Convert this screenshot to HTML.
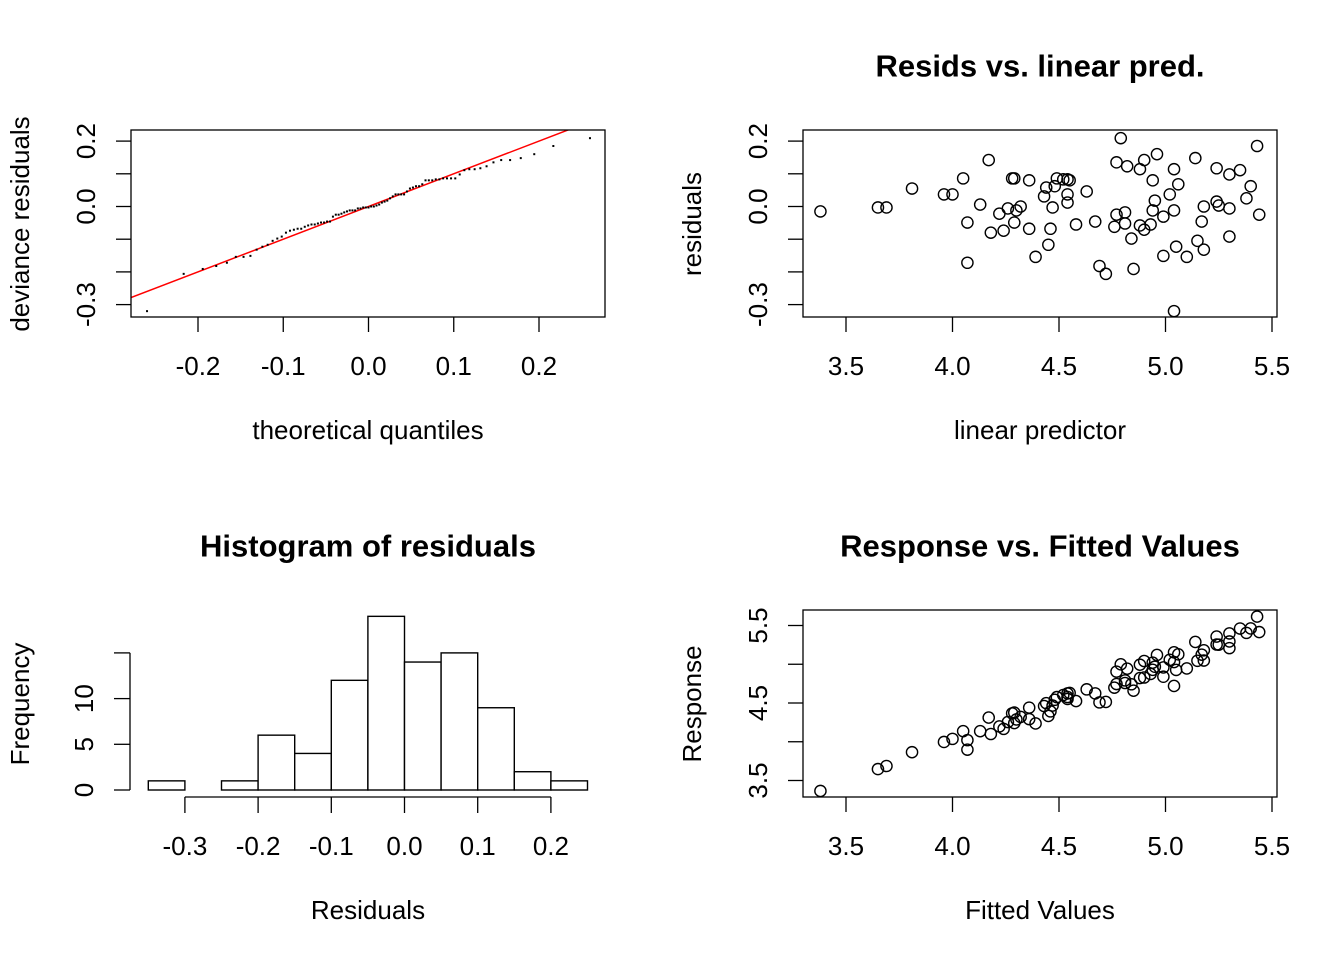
<!DOCTYPE html>
<html><head><meta charset="utf-8"><style>
html,body{margin:0;padding:0;background:#fff}
svg{display:block;font-family:"Liberation Sans",Arial,sans-serif}
</style></head><body>
<svg id="s" width="1344" height="960" viewBox="0 0 1344 960" xmlns="http://www.w3.org/2000/svg"></svg>
<script>
const linPred=[3.38,3.65,3.69,3.81,3.96,4.00,4.05,4.17,4.13,4.07,4.07,4.22,4.26,4.30,4.32,4.29,4.18,4.24,4.28,4.29,4.36,4.36,4.39,4.43,4.44,4.47,4.46,4.45,4.49,4.52,4.54,4.55,4.48,4.54,4.54,4.58,4.63,4.67,4.69,4.72,4.79,4.77,4.82,4.88,4.90,4.96,4.94,5.04,5.06,5.02,4.95,4.94,5.04,4.99,4.77,4.81,4.76,4.81,4.88,4.90,4.93,4.84,4.85,4.99,5.05,5.10,5.15,5.18,5.04,5.14,5.17,5.18,5.24,5.30,5.35,5.24,5.25,5.30,5.30,5.40,5.38,5.43,5.44];
const resid=[-0.015,-0.003,-0.003,0.055,0.037,0.037,0.086,0.142,0.006,-0.049,-0.172,-0.022,-0.006,-0.012,0.0,-0.049,-0.080,-0.074,0.086,0.086,0.080,-0.068,-0.154,0.031,0.058,-0.003,-0.068,-0.117,0.086,0.083,0.083,0.080,0.062,0.037,0.012,-0.055,0.046,-0.046,-0.182,-0.206,0.209,0.135,0.123,0.114,0.142,0.160,0.080,0.114,0.068,0.037,0.018,-0.012,-0.012,-0.031,-0.025,-0.018,-0.062,-0.052,-0.058,-0.071,-0.055,-0.098,-0.191,-0.151,-0.123,-0.154,-0.105,-0.132,-0.320,0.148,-0.046,0.0,0.117,0.098,0.111,0.015,0.003,-0.006,-0.092,0.062,0.025,0.185,-0.025];
const histBreaks=[-0.35,-0.3,-0.25,-0.2,-0.15,-0.1,-0.05,0,0.05,0.1,0.15,0.2,0.25];
const histCounts=[1,0,1,6,4,12,19,14,15,9,2,1];
const qqXTicks=[-0.2,-0.1,0.0,0.1,0.2];
const residTicks=[0.2,0.1,0.0,-0.1,-0.2,-0.3];
const residTickLabels=["0.2","","0.0","","","-0.3"];
const predTicks=[3.5,4.0,4.5,5.0,5.5];
const respTicks=[5.5,5.0,4.5,4.0,3.5];
const respTickLabels=["5.5","","4.5","","3.5"];
const histXTicks=[-0.3,-0.2,-0.1,0.0,0.1,0.2];
const histYTicks=[0,5,10,15];
const histYTickLabels=["0","5","10",""];

const S=document.getElementById('s');const NS='http://www.w3.org/2000/svg';
function mk(tag,at,parent){const e=document.createElementNS(NS,tag);for(const k in at)e.setAttribute(k,at[k]);(parent||S).appendChild(e);return e;}
function txt(x,y,s,size,opts){opts=opts||{};const t=mk('text',{x:x,y:y,'font-size':size,'text-anchor':'middle','dominant-baseline':'central','fill':'#000'});if(opts.bold)t.setAttribute('font-weight','bold');if(opts.rot)t.setAttribute('transform','rotate(-90 '+x+' '+y+')');t.textContent=s;return t;}
function lin(d0,d1,p0,p1){return v=>p0+(v-d0)*(p1-p0)/(d1-d0);}
function line(x1,y1,x2,y2,c,w){return mk('line',{x1:x1,y1:y1,x2:x2,y2:y2,stroke:c||'#000','stroke-width':w||1.3});}
function qnorm(p){const a=[-39.69683028665376,220.9460984245205,-275.9285104469687,138.357751867269,-30.66479806614716,2.506628277459239],b=[-54.47609879822406,161.5858368580409,-155.6989798598866,66.80131188771972,-13.28068155288572],c=[-0.007784894002430293,-0.3223964580411365,-2.400758277161838,-2.549732539343734,4.374664141464968,2.938163982698783],d=[0.007784695709041462,0.3224671290700398,2.445134137142996,3.754408661907416];const pl=0.02425;let q,r;if(p<pl){q=Math.sqrt(-2*Math.log(p));return(((((c[0]*q+c[1])*q+c[2])*q+c[3])*q+c[4])*q+c[5])/((((d[0]*q+d[1])*q+d[2])*q+d[3])*q+1);}if(p>1-pl){q=Math.sqrt(-2*Math.log(1-p));return-(((((c[0]*q+c[1])*q+c[2])*q+c[3])*q+c[4])*q+c[5])/((((d[0]*q+d[1])*q+d[2])*q+d[3])*q+1);}q=p-0.5;r=q*q;return(((((a[0]*r+a[1])*r+a[2])*r+a[3])*r+a[4])*r+a[5])*q/(((((b[0]*r+b[1])*r+b[2])*r+b[3])*r+b[4])*r+1);}
function sd(a){const m=a.reduce((s,v)=>s+v,0)/a.length;return Math.sqrt(a.reduce((s,v)=>s+(v-m)*(v-m),0)/(a.length-1));}

const F=26,FT=31;
// ---------- Panel 1: QQ ----------
{const g=mk('g',{});
const X=lin(0,0.1,368.5,453.75),Y=lin(0,0.1,206.5,173.8);
const sorted=resid.slice().sort((a,b)=>a-b);const n=sorted.length,s=sd(resid)*1.05;
const cp=mk('clipPath',{id:'c1'},g);mk('rect',{x:131,y:130,width:474,height:187},cp);
const rl=mk('line',{x1:X(-0.3),y1:Y(-0.3),x2:X(0.3),y2:Y(0.3),stroke:'#f00','stroke-width':1.5,'clip-path':'url(#c1)'},g);

sorted.forEach((v,i)=>{const tq=qnorm((i+0.5)/n)*s;const r=mk('rect',{x:X(tq)-1,y:Y(v)-1,width:2,height:2,fill:'#000'},g);
});
mk('rect',{x:131,y:130,width:474,height:187,fill:'none',stroke:'#000','stroke-width':1.3},g);
qqXTicks.forEach(v=>{line(X(v),317,X(v),332);txt(X(v),366,v.toFixed(1),F);});
residTicks.forEach((v,i)=>{line(116,Y(v),131,Y(v));if(residTickLabels[i])txt(86,Y(v),residTickLabels[i],F,{rot:1});});
txt(368,430,'theoretical quantiles',F);
txt(20,224,'deviance residuals',F,{rot:1});}

// ---------- Panel 2: resid vs linear pred ----------
{const X=lin(3.5,5.5,846,1272),Y=lin(0,0.1,206.5,173.8);
linPred.forEach((v,i)=>{const c=mk('circle',{cx:X(v),cy:Y(resid[i]),r:5.6,fill:'none',stroke:'#000','stroke-width':1.4});
});
mk('rect',{x:803,y:130,width:474,height:187,fill:'none',stroke:'#000','stroke-width':1.3});
predTicks.forEach(v=>{line(X(v),317,X(v),332);txt(X(v),366,v.toFixed(1),F);});
residTicks.forEach((v,i)=>{line(788,Y(v),803,Y(v));if(residTickLabels[i])txt(758,Y(v),residTickLabels[i],F,{rot:1});});
txt(1040,66,'Resids vs. linear pred.',FT,{bold:1});
txt(1040,430,'linear predictor',F);
txt(692,224,'residuals',F,{rot:1});}

// ---------- Panel 3: histogram ----------
{const X=lin(0,0.1,404.5,477.7),Y=lin(0,5,790,744.3);
histCounts.forEach((c,i)=>{const r=mk('rect',{x:X(histBreaks[i]),y:Y(c),width:X(histBreaks[i+1])-X(histBreaks[i]),height:Y(0)-Y(c),fill:'#fff',stroke:'#000','stroke-width':1.4});
});
line(X(-0.3),797,X(0.2),797);
histXTicks.forEach(v=>{line(X(v),797,X(v),813);txt(X(v),846,v.toFixed(1),F);});
line(130,Y(0),130,Y(15));
histYTicks.forEach((v,i)=>{line(114,Y(v),130,Y(v));if(histYTickLabels[i])txt(84,Y(v),histYTickLabels[i],F,{rot:1});});
txt(368,546,'Histogram of residuals',FT,{bold:1});
txt(368,910,'Residuals',F);
txt(20,704,'Frequency',F,{rot:1});}

// ---------- Panel 4: response vs fitted ----------
{const X=lin(3.5,5.5,846,1272),Y=lin(3.5,5.5,780.5,625.5);
linPred.forEach((v,i)=>{const c=mk('circle',{cx:X(v),cy:Y(v+resid[i]),r:5.6,fill:'none',stroke:'#000','stroke-width':1.4});
});
mk('rect',{x:803,y:610,width:474,height:187,fill:'none',stroke:'#000','stroke-width':1.3});
predTicks.forEach(v=>{line(X(v),797,X(v),812);txt(X(v),846,v.toFixed(1),F);});
respTicks.forEach((v,i)=>{line(788,Y(v),803,Y(v));if(respTickLabels[i])txt(758,Y(v),respTickLabels[i],F,{rot:1});});
txt(1040,546,'Response vs. Fitted Values',FT,{bold:1});
txt(1040,910,'Fitted Values',F);
txt(692,704,'Response',F,{rot:1});}
</script>
</body></html>
